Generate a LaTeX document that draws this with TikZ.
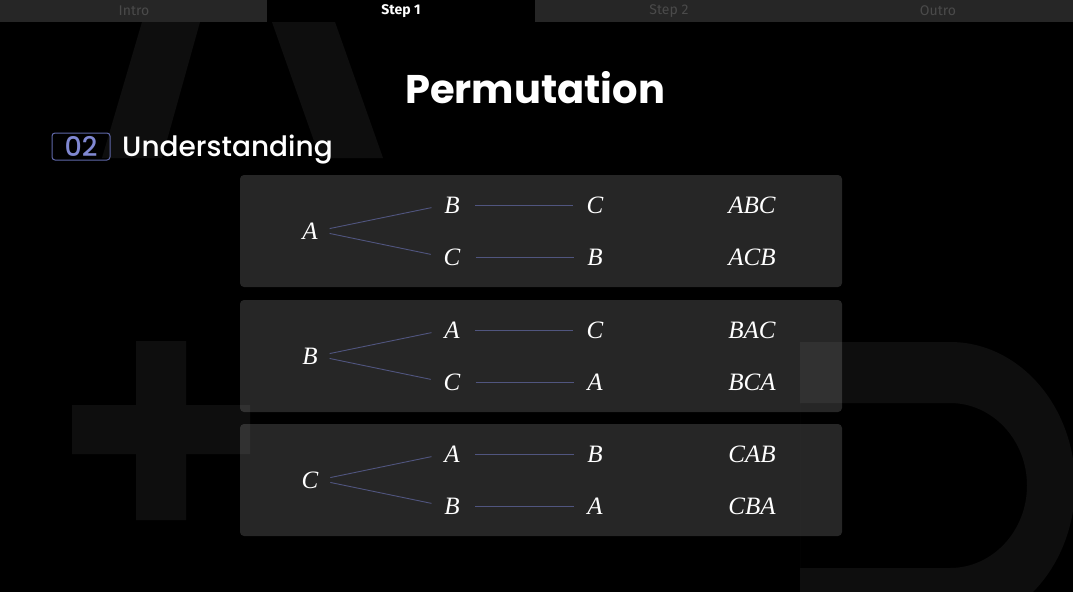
\documentclass[tikz,border=0pt]{standalone}
\usepackage{fontspec}
\setmainfont{Poppins}
\newfontfamily\medfont{Poppins Medium}
\newfontfamily\tabfont{Fira Sans}
\newfontfamily\letterfont{Liberation Serif}
\definecolor{panel}{HTML}{262626}
\definecolor{tabbg}{HTML}{262626}
\definecolor{tabtext}{HTML}{4A4A4A}
\definecolor{branchline}{HTML}{50557F}
\definecolor{badgeline}{HTML}{5F67A8}
\definecolor{badgetext}{HTML}{8088D2}
\begin{document}
\begin{tikzpicture}[x=1pt,y=-1pt,
  ghost/.style={fill=white,fill opacity=0.055},
  panelbox/.style={fill=panel,rounded corners=4pt},
  letter/.style={text=white,inner sep=0pt,font=\letterfont\itshape\fontsize{25}{30}\selectfont},
  branch/.style={draw=branchline,line width=0.9pt},
  tablabel/.style={font=\tabfont\fontsize{14}{16}\selectfont,text=tabtext},
]
% canvas
\fill[black] (0,0) rectangle (1073,592);
\useasboundingbox (0,0) rectangle (1073,592);

% panels
\fill[panelbox] (240,175) rectangle (842,287);
\fill[panelbox] (240,300) rectangle (842,412);
\fill[panelbox] (240,424) rectangle (842,536);

% faint decorative glyphs
\fill[ghost] (102,158) -- (142,22) -- (200,22) -- (162,158) -- cycle;
\fill[ghost] (272,22) -- (335,22) -- (383,158) -- (320,158) -- cycle;
\fill[ghost] (136,341) -- (186,341) -- (186,405) -- (250,405) -- (250,454)
  -- (186,454) -- (186,520) -- (136,520) -- (136,454) -- (72,454)
  -- (72,405) -- (136,405) -- cycle;
\fill[ghost,even odd rule]
  (800,342) -- (950,342) arc[start angle=90,end angle=-90,x radius=125pt,y radius=143pt]
  -- (800,628) -- cycle
  (800,403) -- (950,403) arc[start angle=90,end angle=-90,x radius=77pt,y radius=82.5pt]
  -- (800,568) -- cycle;

% tab bar
\fill[tabbg] (0,0) rectangle (267,22);
\fill[black] (267,0) rectangle (535,22);
\fill[tabbg] (535,0) rectangle (803,22);
\fill[tabbg] (803,0) rectangle (1073,22);
\node[tablabel] (tabintro) at (134,11) {Intro};
\node[tablabel,text=white,font=\tabfont\bfseries\fontsize{14}{16}\selectfont] (tabstep1) at (401,11) {Step 1};
\node[tablabel] (tabstep2) at (669,11) {Step 2};
\node[tablabel] (tabouto) at (938,11) {Outro};

% headings
\node[anchor=base,text=white,font=\fontsize{40}{46}\selectfont\bfseries] (title) at (535,103) {Permutation};
\node[draw=badgeline,line width=1pt,rounded corners=3pt,minimum width=58pt,minimum height=27pt,inner sep=0pt] (badge) at (81,146.5) {};
\node[anchor=base,text=badgetext,font=\medfont\fontsize{27}{30}\selectfont,inner sep=0pt] (badgenum) at (81,156) {02};
\node[anchor=base west,text=white,font=\medfont\fontsize{28}{32}\selectfont,inner sep=0pt] (heading) at (122,156) {Understanding};

% permutation trees
\foreach \k/\y/\r/\pa/\pb/\qa/\qb/\ra/\rb in {
  1/175/A/B/C/C/B/ABC/ACB,
  2/300/B/A/C/C/A/BAC/BCA,
  3/424/C/A/B/B/A/CAB/CBA}{
  \node[letter] (root\k) at (310,\y+56) {\r};
  \node[letter] (up\k) at (452,\y+30) {\pa};
  \node[letter] (upend\k) at (595,\y+30) {\pb};
  \node[letter] (dn\k) at (452,\y+82) {\qa};
  \node[letter] (dnend\k) at (595,\y+82) {\qb};
  \node[letter] (upres\k) at (752,\y+30) {\ra};
  \node[letter] (dnres\k) at (752,\y+82) {\rb};
  \draw[branch,shorten <=12pt,shorten >=13pt] (root\k.east) -- (up\k.west);
  \draw[branch,shorten <=12pt,shorten >=13pt] (root\k.east) -- (dn\k.west);
  \draw[branch,shorten <=15pt,shorten >=13pt] (up\k.east) -- (upend\k.west);
  \draw[branch,shorten <=15pt,shorten >=13pt] (dn\k.east) -- (dnend\k.west);
}
\end{tikzpicture}
\end{document}
